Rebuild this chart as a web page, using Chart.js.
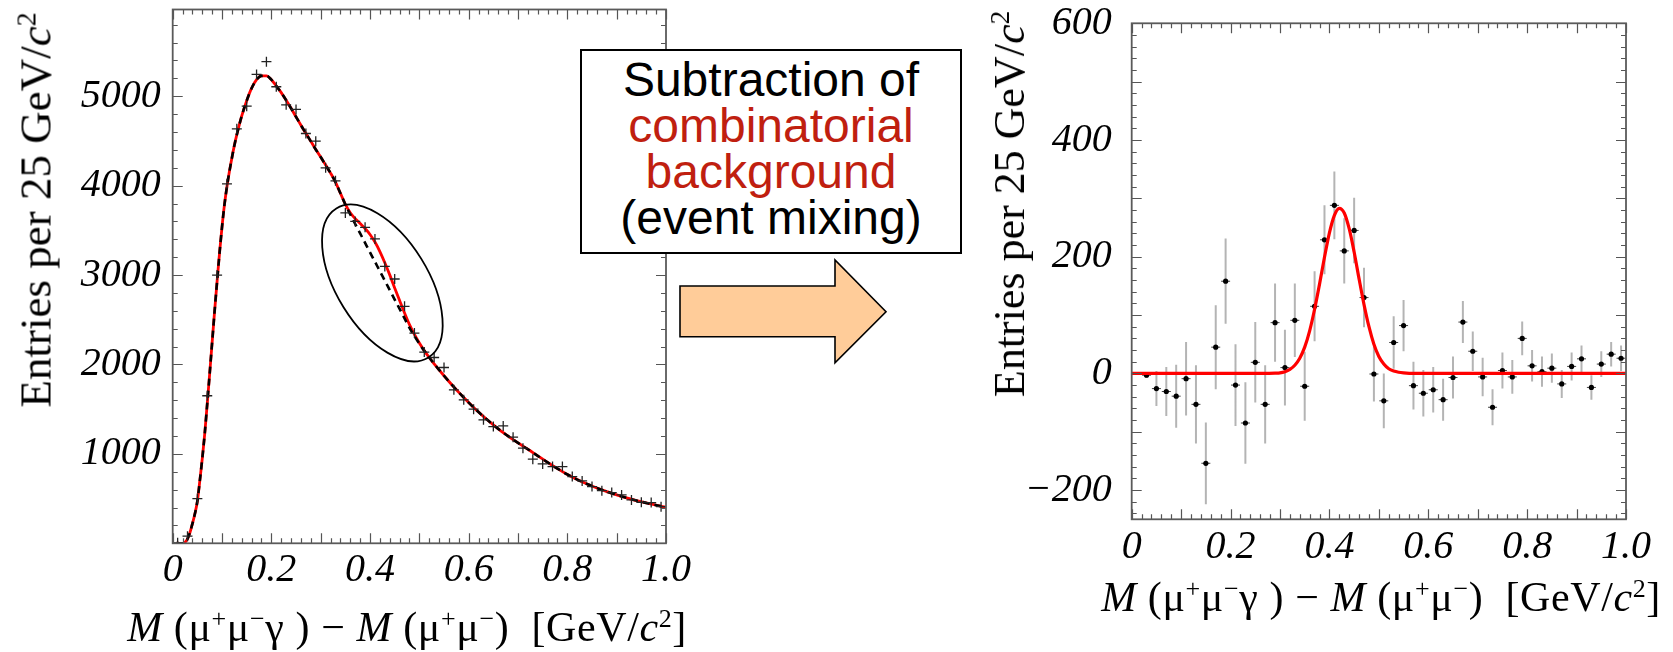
<!DOCTYPE html>
<html><head><meta charset="utf-8">
<script src="https://cdn.jsdelivr.net/npm/chart.js@4.4.1/dist/chart.umd.min.js"></script>
<style>
body{margin:0;background:#fff;width:1673px;height:652px;overflow:hidden;position:relative;}
canvas{position:absolute;top:0;}
.t{position:absolute;white-space:nowrap;font-family:'Liberation Serif',serif;color:#000;line-height:1;}
.yt{transform:translate(-50%,-50%) rotate(-90deg);}
.xt{font-size:42px;letter-spacing:0.6px;transform:translate(-50%,-50%);}
.t sup{font-size:0.62em;vertical-align:0.55em;line-height:0;}
#box{position:absolute;left:580px;top:49px;width:382px;height:205px;box-sizing:border-box;border:2px solid #000;background:#fff;
 font-family:'Liberation Sans',Arial,sans-serif;font-size:48px;line-height:46px;text-align:center;padding-top:6px;color:#000;}
#box .r{color:#c01f10;}
svg{position:absolute;left:0;top:0;}
</style></head><body>
<canvas id="c1" width="700" height="652" style="left:0px"></canvas>
<canvas id="c2" width="713" height="652" style="left:960px"></canvas>

<div class="t yt" style="left:36px;top:210px;font-size:45px">Entries per 25 GeV/<i>c</i><sup>2</sup></div>
<div class="t xt" style="left:407px;top:627px"><i>M</i> (μ<sup>+</sup>μ<sup>−</sup>γ ) − <i>M</i> (μ<sup>+</sup>μ<sup>−</sup>)&nbsp; [GeV/<i>c</i><sup>2</sup>]</div>
<div class="t yt" style="left:1010px;top:204px;font-size:44px">Entries per 25 GeV/<i>c</i><sup>2</sup></div>
<div class="t xt" style="left:1381px;top:597px"><i>M</i> (μ<sup>+</sup>μ<sup>−</sup>γ ) − <i>M</i> (μ<sup>+</sup>μ<sup>−</sup>)&nbsp; [GeV/<i>c</i><sup>2</sup>]</div>

<svg width="1673" height="652"><polygon points="680,286 835,286 835,260 886,311.7 835,362.7 835,336.7 680,336.7" fill="#ffcc99" stroke="#000" stroke-width="1.6"/></svg>
<div id="box">Subtraction of<br><span class="r">combinatorial</span><br><span class="r">background</span><br>(event mixing)</div>

<script>
// ---------- LEFT PLOT DATA ----------
const leftX = [0.01,0.03,0.05,0.07,0.09,0.11,0.13,0.15,0.17,0.19,0.21,0.23,0.25,0.27,0.29,0.31,0.33,0.35,0.37,0.39,0.41,0.43,0.45,0.47,0.49,0.51,0.53,0.55,0.57,0.59,0.61,0.63,0.65,0.67,0.69,0.71,0.73,0.75,0.77,0.79,0.81,0.83,0.85,0.87,0.89,0.91,0.93,0.95,0.97,0.99];
const leftY = [5,80,500,1650,3000,4020,4636,4889,5244,5386,5106,4904,4852,4583,4497,4199,4054,3695,3600,3534,3404,3097,2956,2650,2351,2139,2078,1966,1717,1605,1500,1381,1306,1313,1187,1064,941,888,858,858,746,698,634,589,567,541,485,459,455,410];
const fitX = [0.008,0.015,0.02,0.025,0.03,0.035,0.04,0.045,0.05,0.055,0.06,0.065,0.07,0.075,0.08,0.085,0.09,0.095,0.10,0.105,0.11,0.115,0.12,0.125,0.13,0.14,0.15,0.16,0.17,0.18,0.19,0.20,0.21,0.22,0.23,0.24,0.25,0.26,0.27,0.28,0.29,0.30,0.31,0.32,0.33,0.34,0.35,0.36,0.37,0.38,0.39,0.40,0.41,0.42,0.43,0.44,0.45,0.46,0.47,0.48,0.49,0.50,0.51,0.52,0.53,0.54,0.55,0.56,0.57,0.58,0.59,0.60,0.61,0.62,0.63,0.64,0.65,0.66,0.67,0.68,0.69,0.70,0.72,0.74,0.76,0.78,0.80,0.82,0.84,0.86,0.88,0.90,0.92,0.94,0.96,0.98,1.00];
const bgY = [5,0,0,12,50,120,220,330,470,700,950,1230,1560,1900,2250,2600,2930,3250,3540,3790,3990,4160,4310,4450,4570,4780,4950,5090,5185,5228,5228,5185,5115,5040,4955,4865,4770,4675,4585,4495,4405,4320,4230,4140,4040,3915,3790,3677,3571,3466,3360,3254,3149,3043,2938,2832,2726,2621,2515,2410,2318,2232,2152,2078,2008,1940,1874,1810,1748,1688,1630,1574,1520,1468,1418,1370,1324,1280,1238,1198,1160,1123,1052,978,905,835,770,713,663,618,578,541,508,478,451,426,403];
const totY = [5,0,0,12,50,120,220,330,470,700,950,1230,1560,1900,2250,2600,2930,3250,3540,3790,3990,4160,4310,4450,4570,4780,4950,5090,5185,5228,5228,5185,5115,5040,4955,4865,4770,4675,4585,4495,4405,4320,4230,4140,4040,3915,3790,3697,3631,3576,3520,3454,3369,3263,3138,3002,2856,2716,2575,2445,2336,2240,2155,2078,2008,1940,1874,1810,1748,1688,1630,1574,1520,1468,1418,1370,1324,1280,1238,1198,1160,1123,1052,978,905,835,770,713,663,618,578,541,508,478,451,426,403];
const leftXTicks = [0,0.2,0.4,0.6,0.8,1.0];
const leftXLabels = ["0","0.2","0.4","0.6","0.8","1.0"];
const leftYTicks = [1000,2000,3000,4000,5000];
const leftYLabels = ["1000","2000","3000","4000","5000"];

// ---------- RIGHT PLOT DATA ----------
const rightX = [0.03,0.05,0.07,0.09,0.11,0.13,0.15,0.17,0.19,0.21,0.23,0.25,0.27,0.29,0.31,0.33,0.35,0.37,0.39,0.41,0.43,0.45,0.47,0.49,0.51,0.53,0.55,0.57,0.59,0.61,0.63,0.65,0.67,0.69,0.71,0.73,0.75,0.77,0.79,0.81,0.83,0.85,0.87,0.89,0.91,0.93,0.95,0.97,0.99];
const rightY = [-3,-26,-31,-39,-9,-53,-154,45,158,-20,-85,19,-53,87,10,91,-22,115,229,288,210,245,130,-1,-47,53,82,-21,-34,-28,-45,-7,88,38,-6,-58,5,-6,60,13,3,9,-18,12,25,-24,16,33,26];
const rightErr = [5,30,42,54,63,67,70,72,73,70,70,69,67,67,65,63,59,60,59,58,56,56,51,47,47,45,44,41,40,39,36,36,36,34,33,31,31,29,29,27,26,25,24,24,23,21,22,21,22];
const rightCurveX = [0,0.27,0.29,0.30,0.31,0.32,0.33,0.34,0.35,0.36,0.37,0.38,0.39,0.40,0.41,0.42,0.43,0.44,0.45,0.46,0.47,0.48,0.49,0.50,0.51,0.52,0.53,0.54,0.55,0.57,1.0];
const rightCurveY = [0,0,0.5,1,3,7,14,26,45,73,110,153,199,241,271,283,275,248,208,162,118,80,50,29,16,8,4,2,1,0,0];
const rightXTicks = [0,0.2,0.4,0.6,0.8,1.0];
const rightXLabels = ["0","0.2","0.4","0.6","0.8","1.0"];
const rightYTicks = [-200,0,200,400,600];
const rightYLabels = ["−200","0","200","400","600"];

// annotation ellipse (data-anchored centre)
const ellipseCenter = [0.425, 2912];

// ---------- helpers ----------
const pts = (xs, ys) => xs.map((x, i) => ({x, y: ys[i]}));
function errSegments(xs, ys, es){
  const out = [];
  xs.forEach((x,i)=>{ out.push({x, y: ys[i]-es[i]}, {x, y: ys[i]+es[i]}, {x, y: null}); });
  return out;
}
const tickFont = {family:'Liberation Serif', size:40, style:'italic'};

const frameTicks = {
  id:'frameTicks',
  afterDatasetsDraw(chart, args, o){
    const {ctx, chartArea:a} = chart;
    const xs = chart.scales.x, ys = chart.scales.y;
    ctx.save();
    ctx.strokeStyle = '#555'; ctx.lineWidth = 1.2;
    const tick = (fn, n) => { for (let i=0;i<=n;i++) fn(i); };
    const nx = Math.round((o.x1 - o.x0)/o.xMinor);
    tick(i => {
      const v = o.x0 + i*o.xMinor;
      const major = Math.abs(v/o.xMajor - Math.round(v/o.xMajor)) < 1e-6;
      const L = major ? o.majLen : o.minLen;
      const px = Math.round(xs.getPixelForValue(v)) + 0.5;
      ctx.beginPath();
      ctx.moveTo(px, a.bottom); ctx.lineTo(px, a.bottom - L);
      ctx.moveTo(px, a.top); ctx.lineTo(px, a.top + L);
      ctx.stroke();
    }, nx);
    const ny = Math.round((o.y1 - o.y0)/o.yMinor);
    tick(i => {
      const v = o.y0 + i*o.yMinor;
      const major = Math.abs(v/o.yMajor - Math.round(v/o.yMajor)) < 1e-6;
      const L = major ? o.majLen : o.minLen;
      const py = Math.round(ys.getPixelForValue(v)) + 0.5;
      ctx.beginPath();
      ctx.moveTo(a.left, py); ctx.lineTo(a.left + L, py);
      ctx.moveTo(a.right, py); ctx.lineTo(a.right - L, py);
      ctx.stroke();
    }, ny);
    ctx.lineWidth = 1.8; ctx.strokeStyle = '#5a5a5a';
    ctx.strokeRect(a.left, a.top, a.right - a.left, a.bottom - a.top);
    if (o.ellipse){
      const cx = xs.getPixelForValue(o.ellipse[0]), cy = ys.getPixelForValue(o.ellipse[1]);
      ctx.strokeStyle = '#000'; ctx.lineWidth = 1.8;
      ctx.beginPath(); ctx.ellipse(cx, cy, 87.6, 45.8, 58.3*Math.PI/180, 0, 2*Math.PI); ctx.stroke();
    }
    ctx.restore();
  }
};

function makeScales(cfg){
  return {
    x: {type:'linear', min:cfg.xmin, max:cfg.xmax,
        grid:{display:false, drawTicks:false}, border:{display:false},
        ticks:{font:tickFont, color:'#000', padding:cfg.xpad, autoSkip:false, maxRotation:0,
               callback:(v,i)=>cfg.xLabels[i]},
        afterBuildTicks: s => { s.ticks = cfg.xTicks.map(v=>({value:v})); },
        afterFit: s => { s.height = cfg.xh; s.paddingLeft = 0; s.paddingRight = 0; }},
    y: {type:'linear', min:cfg.ymin, max:cfg.ymax,
        grid:{display:false, drawTicks:false}, border:{display:false},
        ticks:{font:tickFont, color:'#000', padding:cfg.ypad, autoSkip:false,
               callback:(v,i)=>cfg.yLabels[i]},
        afterBuildTicks: s => { s.ticks = cfg.yTicks.map(v=>({value:v})); },
        afterFit: s => { s.width = cfg.yw; s.paddingTop = 0; s.paddingBottom = 0; }}
  };
}

const common = {responsive:false, animation:false, devicePixelRatio:1,
  plugins:{legend:{display:false}, tooltip:{enabled:false}, title:{display:false}}};

// ---------- LEFT CHART ----------
new Chart(document.getElementById('c1'), {
  type:'line',
  data:{datasets:[
    {data: pts(leftX, leftY), showLine:false, pointStyle:'cross', pointRadius:5, pointBorderWidth:1.3,
     borderColor:'#222', pointBorderColor:'#222', order:0},
    {data: pts(fitX, bgY), borderColor:'#000', borderWidth:2.6, borderDash:[7,5], pointRadius:0,
     cubicInterpolationMode:'monotone', order:1},
    {data: pts(fitX, totY), borderColor:'#ff0000', borderWidth:2.8, pointRadius:0,
     cubicInterpolationMode:'monotone', order:2}
  ]},
  options:Object.assign({}, common, {
    layout:{padding:{left:0, top:9.5, right:34, bottom:0}},
    scales: makeScales({xmin:0, xmax:1, ymin:0, ymax:5970, xTicks:leftXTicks, xLabels:leftXLabels,
      yTicks:leftYTicks, yLabels:leftYLabels, xh:108.7, yw:172.7, xpad:3.5, ypad:12}),
    plugins:Object.assign({}, common.plugins, {frameTicks:{x0:0, x1:1, xMinor:0.02, xMajor:0.1,
      y0:0, y1:5800, yMinor:200, yMajor:1000, majLen:10, minLen:5, ellipse:ellipseCenter}})
  }),
  plugins:[frameTicks]
});

// ---------- RIGHT CHART ----------
new Chart(document.getElementById('c2'), {
  type:'line',
  data:{datasets:[
    {data: pts(rightCurveX, rightCurveY), borderColor:'#ff0000', borderWidth:3.2, pointRadius:0,
     cubicInterpolationMode:'monotone', order:0},
    {data: pts(rightX, rightY), showLine:false, pointStyle:'circle', pointRadius:2.6,
     pointBackgroundColor:'#000', pointBorderColor:'#000', pointBorderWidth:0, order:1},
    {data: pts(rightX, rightY), showLine:false, pointStyle:'line', pointRadius:4.5,
     pointBorderColor:'#444', pointBorderWidth:1, order:2},
    {data: errSegments(rightX, rightY, rightErr), borderColor:'#b4b4b4', borderWidth:2, pointRadius:0,
     spanGaps:false, order:3}
  ]},
  options:Object.assign({}, common, {
    layout:{padding:{left:0, top:23.3, right:47, bottom:0}},
    scales: makeScales({xmin:0, xmax:1, ymin:-250, ymax:600, xTicks:rightXTicks, xLabels:rightXLabels,
      yTicks:rightYTicks, yLabels:rightYLabels, xh:132.7, yw:171.7, xpad:4, ypad:20}),
    plugins:Object.assign({}, common.plugins, {frameTicks:{x0:0, x1:1, xMinor:0.02, xMajor:0.1,
      y0:-240, y1:600, yMinor:20, yMajor:100, majLen:10, minLen:5}})
  }),
  plugins:[frameTicks]
});
</script>
</body></html>
